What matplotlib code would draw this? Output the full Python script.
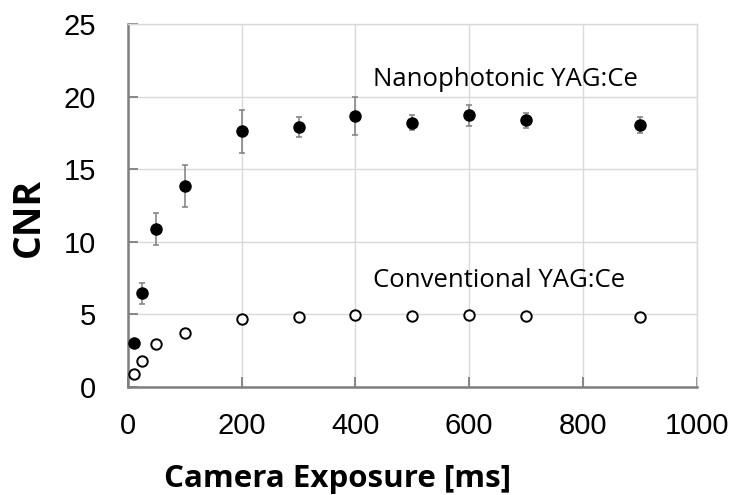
import matplotlib
matplotlib.use("Agg")
import matplotlib.pyplot as plt

exposure = [10, 25, 50, 100, 200, 300, 400, 500, 600, 700, 900]
nano_cnr = [3.0, 6.45, 10.9, 13.85, 17.6, 17.9, 18.65, 18.2, 18.7, 18.35, 18.05]
nano_err = [0.2, 0.72, 1.1, 1.45, 1.5, 0.7, 1.3, 0.5, 0.75, 0.5, 0.55]
conv_cnr = [0.9, 1.75, 2.95, 3.7, 4.7, 4.78, 4.97, 4.88, 4.97, 4.88, 4.78]
xticks = [0, 200, 400, 600, 800, 1000]
yticks = [0, 5, 10, 15, 20, 25]

fig = plt.figure(figsize=(7.3, 4.95), dpi=100)
ax = fig.add_axes([0.1753, 0.2188, 0.9544 - 0.1753, 0.9515 - 0.2188])

ax.errorbar(exposure, nano_cnr, yerr=nano_err, fmt='o', color='black',
            markersize=8, ecolor='#7f7f7f', elinewidth=1.1, capsize=2.5,
            capthick=1.1, zorder=3)
ax.plot(exposure, conv_cnr, 'o', markerfacecolor='white', markeredgecolor='black',
        markersize=7.5, markeredgewidth=1.4, zorder=3)

ax.set_xlim(0, 1000)
ax.set_ylim(0, 25)
ax.set_xticks(xticks)
ax.set_yticks(yticks)
ax.grid(True, color='#d9d9d9', linewidth=1.0)
ax.set_axisbelow(True)

for s in ['top', 'right']:
    ax.spines[s].set_color('#d9d9d9')
    ax.spines[s].set_linewidth(1.0)
for s in ['left', 'bottom']:
    ax.spines[s].set_color('#7f7f7f')
    ax.spines[s].set_linewidth(1.8)

ax.tick_params(direction='in', length=7, width=1.3, color='#7f7f7f',
               labelsize=21)
ax.tick_params(axis='x', pad=18)
ax.tick_params(axis='y', pad=23)
for lab in ax.get_xticklabels() + ax.get_yticklabels():
    lab.set_fontfamily('Liberation Sans')

ax.set_xlabel('Camera Exposure [ms]', fontsize=22.5, fontweight='bold',
              fontfamily='Open Sans', va='baseline')
ax.xaxis.set_label_coords(0.368, -0.2757)
ax.set_ylabel('CNR', fontsize=27, fontweight='bold', fontfamily='Open Sans',
              va='center', ha='center')
ax.yaxis.set_label_coords(-0.175, 0.467)

ax.text(430, 20.7, 'Nanophotonic YAG:Ce', fontsize=18.5, fontfamily='Open Sans',
        va='baseline', ha='left')
ax.text(430, 6.87, 'Conventional YAG:Ce', fontsize=18.5, fontfamily='Open Sans',
        va='baseline', ha='left')

fig.savefig('out.png', dpi=100)
